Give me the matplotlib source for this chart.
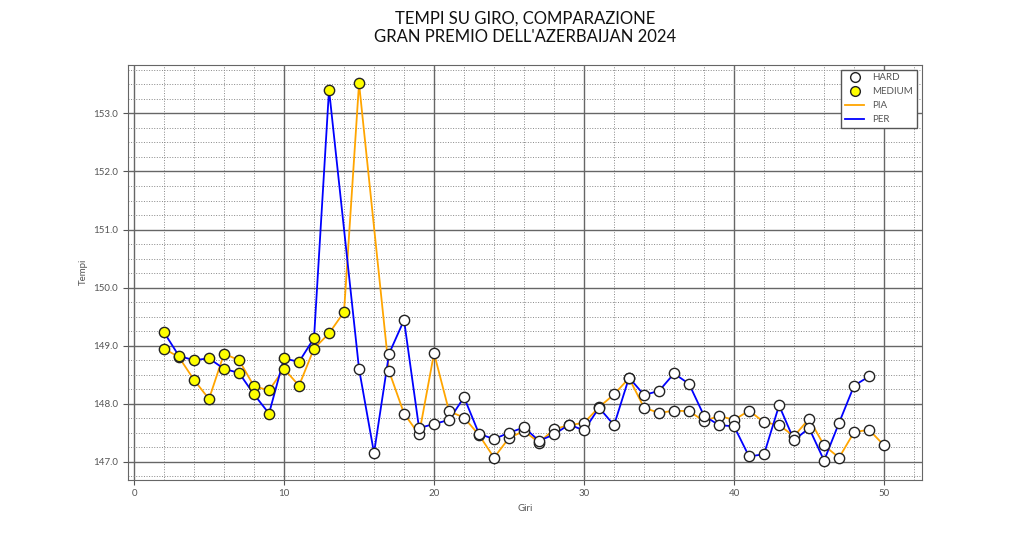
import matplotlib.pyplot as plt
import matplotlib.ticker as mticker
from matplotlib.lines import Line2D
import numpy as np

plt.rcParams['font.family'] = ['Lato', 'DejaVu Sans']

giri_per = [2, 3, 4, 5, 6, 7, 8, 9, 10, 11, 12, 13,
            15, 16, 17, 18, 19, 20, 21, 22, 23, 24, 25, 26, 27, 28, 29, 30,
            31, 32, 33, 34, 35, 36, 37, 38, 39, 40, 41, 42, 43, 44, 45, 46,
            47, 48, 49]
tempi_per = [149.23, 148.82, 148.75, 148.78, 148.60, 148.53, 148.16, 147.83,
             148.78, 148.72, 149.13, 153.41,
             148.60, 147.15, 148.86, 149.44, 147.58, 147.65, 147.72, 148.11,
             147.48, 147.39, 147.50, 147.59, 147.36, 147.47, 147.64, 147.54,
             147.93, 147.63, 148.45, 148.15, 148.22, 148.52, 148.34, 147.79,
             147.63, 147.61, 147.09, 147.13, 147.97, 147.37, 147.58, 147.02,
             147.67, 148.31, 148.47]
mescola_per = ['MEDIUM'] * 12 + ['HARD'] * 35

giri_pia = [2, 3, 4, 5, 6, 7, 8, 9, 10, 11, 12, 13, 14, 15,
            17, 18, 19, 20, 21, 22, 23, 24, 25, 26, 27, 28, 29, 30,
            31, 32, 33, 34, 35, 36, 37, 38, 39, 40, 41, 42, 43, 44, 45, 46,
            47, 48, 49, 50]
tempi_pia = [148.95, 148.80, 148.41, 148.08, 148.86, 148.75, 148.30, 148.23,
             148.60, 148.31, 148.95, 149.21, 149.58, 153.52,
             148.56, 147.83, 147.47, 148.87, 147.87, 147.76, 147.46, 147.07,
             147.41, 147.53, 147.33, 147.56, 147.63, 147.67,
             147.94, 148.16, 148.44, 147.93, 147.84, 147.88, 147.87, 147.70,
             147.79, 147.72, 147.88, 147.68, 147.63, 147.44, 147.74, 147.28,
             147.07, 147.51, 147.55, 147.28]
mescola_pia = ['MEDIUM'] * 14 + ['HARD'] * 34

colori_mescola = {'HARD': 'white', 'MEDIUM': 'yellow'}

fig, ax = plt.subplots(figsize=(10.24, 5.39), dpi=100)

ax.plot(giri_pia, tempi_pia, color='orange', lw=1.3, zorder=2)
ax.plot(giri_per, tempi_per, color='blue', lw=1.3, zorder=2)

for giri, tempi, mescole in [(giri_pia, tempi_pia, mescola_pia),
                             (giri_per, tempi_per, mescola_per)]:
    g = np.array(giri)
    t = np.array(tempi)
    m = np.array(mescole)
    for mescola, colore in colori_mescola.items():
        sel = m == mescola
        ax.scatter(g[sel], t[sel], s=55, c=colore, edgecolors='#222222',
                   linewidths=1.0, zorder=3)

ax.set_xlim(-0.4, 52.5)
ax.set_ylim(146.69, 153.84)
ax.xaxis.set_major_locator(mticker.MultipleLocator(10))
ax.xaxis.set_minor_locator(mticker.MultipleLocator(2))
ax.yaxis.set_major_locator(mticker.MultipleLocator(1))
ax.yaxis.set_minor_locator(mticker.MultipleLocator(0.25))
ax.yaxis.set_major_formatter(mticker.FormatStrFormatter('%.1f'))
ax.grid(which='major', color='#666666', lw=1.0, ls='-')
ax.grid(which='minor', color='#888888', lw=0.7, ls=':')
ax.set_axisbelow(True)
ax.tick_params(axis='both', which='major', labelsize=7, colors='#555555')
ax.tick_params(axis='both', which='minor', length=0)
for s in ax.spines.values():
    s.set_color('#666666')

ax.set_xlabel('Giri', fontsize=7, color='#555555')
ax.set_ylabel('Tempi', fontsize=7, color='#555555')
ax.set_title("TEMPI SU GIRO, COMPARAZIONE\nGRAN PREMIO DELL'AZERBAIJAN 2024",
             fontsize=12, pad=16, color='#111111')

maniglie = [
    Line2D([], [], ls='none', marker='o', markerfacecolor='white',
           markeredgecolor='#222222', markersize=7, label='HARD'),
    Line2D([], [], ls='none', marker='o', markerfacecolor='yellow',
           markeredgecolor='#222222', markersize=7, label='MEDIUM'),
    Line2D([], [], color='orange', lw=1.3, label='PIA'),
    Line2D([], [], color='blue', lw=1.3, label='PER'),
]
leg = ax.legend(handles=maniglie, loc='upper right', fontsize=7,
                fancybox=False, edgecolor='#555555', framealpha=1)
for t in leg.get_texts():
    t.set_color('#555555')

plt.savefig('out.png', dpi=100)
plt.close()
